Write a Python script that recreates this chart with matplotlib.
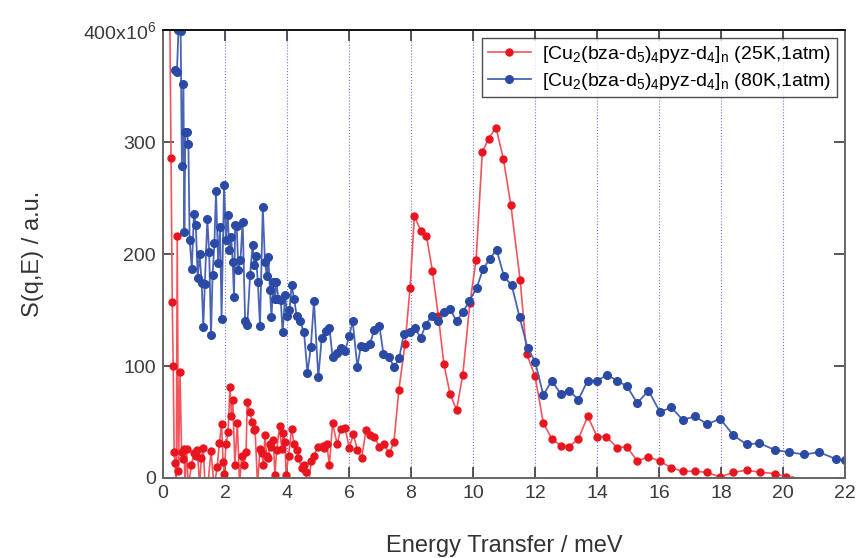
import matplotlib
matplotlib.use("Agg")
import matplotlib.pyplot as plt

plt.rcParams['font.family'] = ['Liberation Sans', 'DejaVu Sans']
plt.rcParams['mathtext.fontset'] = 'custom'
plt.rcParams['mathtext.rm'] = 'Liberation Sans'
plt.rcParams['mathtext.it'] = 'Liberation Sans'

# red: 25K, 1atm
energy_25k = [0.20, 0.26, 0.30, 0.33, 0.36, 0.39, 0.43, 0.46, 0.50, 0.55, 0.60, 0.64,
              0.68, 0.71, 0.76, 0.82, 0.92, 1.00, 1.06, 1.11, 1.18, 1.24, 1.30, 1.36,
              1.45, 1.55, 1.65, 1.75, 1.82, 1.89, 1.94, 1.98, 2.03, 2.10, 2.16, 2.21,
              2.25, 2.32, 2.40, 2.47, 2.54, 2.61, 2.68, 2.72, 2.81, 2.87, 2.94, 2.97,
              3.05, 3.13, 3.19, 3.24, 3.29, 3.34, 3.40, 3.45, 3.50, 3.56, 3.61, 3.67,
              3.76, 3.83, 3.88, 3.94, 3.97, 4.05, 4.15, 4.23, 4.31, 4.37, 4.47, 4.55,
              4.60, 4.70, 4.78, 4.87, 5.01, 5.15, 5.20, 5.28, 5.37, 5.47, 5.62, 5.73,
              5.87, 6.01, 6.14, 6.27, 6.41, 6.55, 6.68, 6.81, 6.98, 7.13, 7.30, 7.45,
              7.61, 7.81, 7.97, 8.11, 8.31, 8.50, 8.69, 8.88, 9.06, 9.26, 9.47, 9.67,
              9.90, 10.10, 10.30, 10.50, 10.74, 10.98, 11.22, 11.52, 11.73, 12.00, 12.27,
              12.54, 12.83, 13.10, 13.40, 13.70, 14.00, 14.30, 14.65, 14.96, 15.30,
              15.66, 16.03, 16.40, 16.76, 17.16, 17.54, 17.97, 18.40, 18.83, 19.26,
              19.74, 20.10, 20.30]
signal_25k = [480, 286, 157, 100, 23, 13, -8, 216, 6, 95, 23, 17,
              26, -6, 26, -8, 12, 22, 20, 25, -6, 18, 27, -8,
              -6, 24, -8, 10, 31, 48, 14, 4, 30, 41, 81, 55,
              70, 12, 49, -6, 20, 12, 23, 68, 59, 50, 43, 44,
              -6, 26, 22, 12, 38, 20, 18, 30, 28, 34, 3, 25,
              46, 26, 40, 32, 3, 20, 44, 30, 25, 18, 9, 12,
              5, -6, 15, 20, 28, 29, 27, 30, 12, 49, 30, 44,
              45, 27, 39, 25, 18, 43, 38, 37, 28, 30, 22, 32,
              79, 120, 170, 234, 221, 216, 185, 145, 102, 75, 61, 92,
              156, 195, 291, 303, 313, 285, 244, 177, 111, 91, 49,
              35, 29, 28, 35, 55, 37, 37, 27, 28, 15,
              19, 15, 9, 6, 6, 5, 1, 5, 7, 5,
              4, 1, -2]

# blue: 80K, 1atm
energy_80k = [0.38, 0.45, 0.50, 0.57, 0.61, 0.66, 0.69, 0.72, 0.77, 0.82, 0.86, 0.93,
              1.00, 1.06, 1.12, 1.18, 1.25, 1.30, 1.35, 1.43, 1.49, 1.55, 1.60, 1.66,
              1.71, 1.78, 1.84, 1.89, 1.97, 2.03, 2.09, 2.14, 2.20, 2.25, 2.29, 2.33,
              2.38, 2.43, 2.50, 2.57, 2.65, 2.72, 2.81, 2.89, 2.95, 3.00, 3.06, 3.13,
              3.22, 3.29, 3.35, 3.40, 3.45, 3.50, 3.56, 3.61, 3.66, 3.72, 3.80, 3.86,
              3.94, 4.01, 4.08, 4.15, 4.23, 4.31, 4.42, 4.55, 4.66, 4.77, 4.87, 5.01,
              5.12, 5.26, 5.37, 5.47, 5.60, 5.73, 5.87, 6.01, 6.12, 6.27, 6.38, 6.52,
              6.68, 6.81, 6.98, 7.11, 7.30, 7.45, 7.62, 7.77, 7.97, 8.13, 8.31, 8.48,
              8.67, 8.88, 9.07, 9.26, 9.47, 9.67, 9.88, 10.12, 10.33, 10.55, 10.76,
              11.00, 11.25, 11.50, 11.76, 12.00, 12.27, 12.54, 12.83, 13.10, 13.40,
              13.70, 14.00, 14.33, 14.65, 14.96, 15.30, 15.66, 16.03, 16.40, 16.76,
              17.16, 17.56, 17.97, 18.40, 18.83, 19.24, 19.74, 20.20, 20.68, 21.17,
              21.70, 22.00]
signal_80k = [364, 363, 400, 399, 279, 352, 220, 309, 309, 298, 213, 187,
              236, 226, 179, 200, 174, 135, 173, 231, 202, 128, 181, 210,
              256, 192, 224, 142, 262, 213, 235, 204, 215, 193, 162, 226,
              225, 186, 195, 229, 140, 137, 181, 208, 190, 198, 175, 136,
              242, 193, 180, 197, 168, 144, 175, 160, 175, 160, 159, 130,
              163, 145, 150, 172, 160, 145, 140, 130, 94, 117, 158, 90,
              125, 131, 134, 108, 112, 116, 113, 127, 140, 99, 118, 117,
              120, 132, 136, 111, 108, 99, 107, 129, 130, 134, 125, 137,
              145, 140, 148, 151, 140, 148, 158, 170, 187, 196, 204,
              180, 172, 144, 116, 104, 74, 87, 75, 78, 70,
              87, 87, 92, 87, 82, 67, 78, 59, 63, 52,
              55, 48, 53, 38, 30, 31, 25, 23, 21, 23,
              17, 16]

fig = plt.figure(figsize=(8.6, 5.58), dpi=100)
ax = fig.add_axes([0.1895, 0.1434, 0.7931, 0.8026])

ax.plot(energy_25k, signal_25k, '-o', color='#f2555c', lw=1.2, ms=5,
        mfc='#e8151f', mec='#e8151f',
        label=r'[Cu$_2$(bza-d$_5$)$_4$pyz-d$_4$]$_n$ (25K,1atm)')
ax.plot(energy_80k, signal_80k, '-o', color='#4a64b4', lw=1.3, ms=5.5,
        mfc='#2b4aa5', mec='#2b4aa5',
        label=r'[Cu$_2$(bza-d$_5$)$_4$pyz-d$_4$]$_n$ (80K,1atm)')

ax.set_xlim(0, 22)
ax.set_ylim(0, 400)
ax.set_xticks(range(0, 23, 2))
ax.set_yticks([0, 100, 200, 300, 400])
ax.set_yticklabels(['0', '100', '200', '300', r'400x10$^6$'])

# dotted vertical guide lines
for x in range(2, 21, 2):
    ax.axvline(x, color='#7474dc', lw=0.8, ls=':', zorder=0)

ax.tick_params(direction='in', top=True, right=True, length=8, width=1.2,
               labelsize=14, colors='#3a3a3a', pad=5)
for s in ax.spines.values():
    s.set_color('#666666')
    s.set_linewidth(1.4)
ax.spines['top'].set_color('#111111')

ax.set_xlabel('Energy Transfer / meV', fontsize=17, color='#333333', labelpad=24)
ax.set_ylabel('S(q,E) / a.u.', fontsize=17, color='#333333', labelpad=28)

leg = ax.legend(loc='upper right', bbox_to_anchor=(1.0, 1.0), borderaxespad=0.4,
                fontsize=14, frameon=True, fancybox=False, handlelength=2.2,
                handletextpad=0.6, labelspacing=0.3, borderpad=0.3)
leg.get_frame().set_edgecolor('#222222')
leg.get_frame().set_linewidth(1.0)

fig.savefig('out.png', dpi=100)
